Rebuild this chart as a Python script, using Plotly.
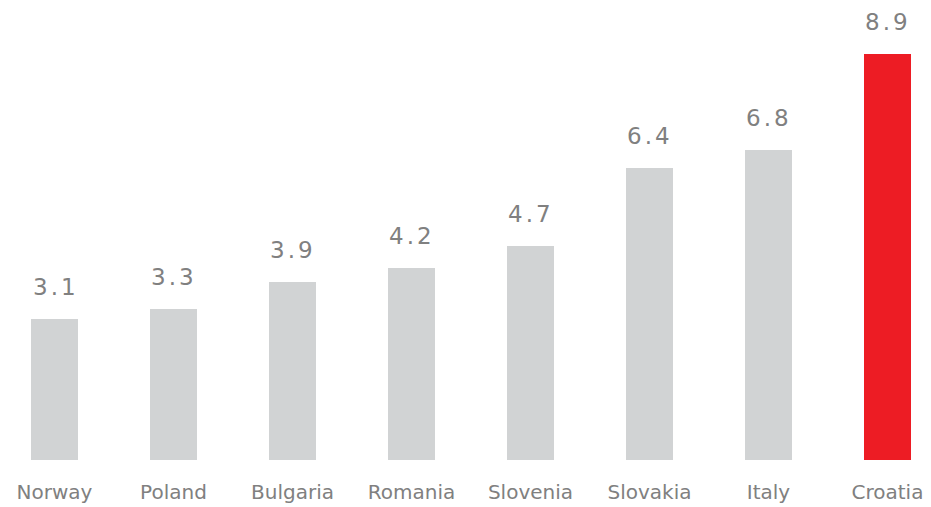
import plotly.graph_objects as go

countries = ["Norway", "Poland", "Bulgaria", "Romania", "Slovenia", "Slovakia", "Italy", "Croatia"]
values = [3.1, 3.3, 3.9, 4.2, 4.7, 6.4, 6.8, 8.9]
highlight = "Croatia"

GREY = "#D1D3D4"
RED = "#ED1C24"
TEXT = "#808080"
FONT = "DejaVu Sans, Verdana, sans-serif"

colors = [RED if c == highlight else GREY for c in countries]
xpos = list(range(len(countries)))

fig = go.Figure(
    go.Bar(
        x=xpos,
        y=values,
        marker=dict(color=colors, line=dict(width=0)),
        width=0.395,
        hoverinfo="skip",
    )
)

# value labels above each bar, slightly letter-spaced
for x, v in zip(xpos, values):
    fig.add_annotation(
        x=x, y=v, xref="x", yref="y",
        text=f'<span style="letter-spacing:3px">{v:.1f}</span>',
        showarrow=False, yanchor="bottom", xanchor="center",
        yshift=17, xshift=1,
        font=dict(family=FONT, size=23, color=TEXT),
    )

fig.update_layout(
    width=931, height=507,
    margin=dict(l=0, r=0, t=0, b=47),
    paper_bgcolor="white", plot_bgcolor="white",
    showlegend=False,
    bargap=0,
    xaxis=dict(
        range=[-0.458, 7.366],
        tickmode="array", tickvals=xpos, ticktext=countries,
        showgrid=False, zeroline=False, showline=False, ticks="",
        tickfont=dict(family=FONT, size=20, color=TEXT),
        ticklabelstandoff=18,
        automargin=False,
    ),
    yaxis=dict(
        range=[0, 460 / 45.62],
        visible=False, showgrid=False, zeroline=False,
        automargin=False,
    ),
)

fig.write_html("out.html")
